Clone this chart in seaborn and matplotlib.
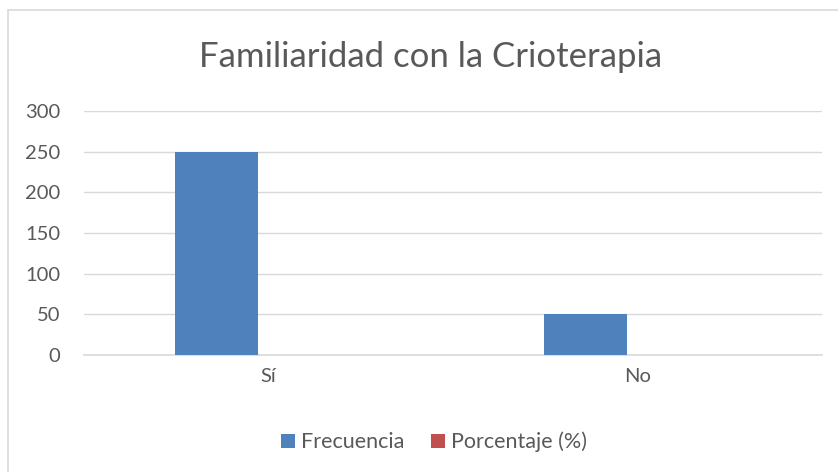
import matplotlib
matplotlib.use("Agg")
import matplotlib.pyplot as plt
import seaborn as sns
import pandas as pd
from matplotlib.lines import Line2D

categories = ["Sí", "No"]
frecuencia = [250, 50]
porcentaje = [0, 0]
series_names = ["Frecuencia", "Porcentaje (%)"]
y_ticks = [0, 50, 100, 150, 200, 250, 300]

sns.set_theme(style="white")
plt.rcParams['font.family'] = ['Lato', 'DejaVu Sans']

df = pd.DataFrame({
    "Categoría": categories * 2,
    "Valor": frecuencia + porcentaje,
    "Serie": [series_names[0]] * len(categories) + [series_names[1]] * len(categories),
})

W, H = 838, 472
fig = plt.figure(figsize=(W / 100, H / 100), dpi=100)
ax = fig.add_axes([84 / W, 1 - 355 / H, (822 - 84) / W, (355 - 111) / H])

palette = {series_names[0]: "#4f81bd", series_names[1]: "#c0504d"}
sns.barplot(data=df, x="Categoría", y="Valor", hue="Serie", palette=palette,
            width=0.564, gap=0.2, ax=ax, saturation=1, legend=True, zorder=3,
            linewidth=0)

ax.set_xlim(-0.5, 1.5)
ax.set_ylim(0, 300)
ax.set_yticks(y_ticks)
ax.set_yticklabels([str(t) for t in y_ticks], fontsize=14.5, color="#595959")
ax.tick_params(axis="x", labelsize=14.5, colors="#595959", length=0, pad=9)
ax.tick_params(axis="y", length=0, pad=17)
ax.set_xlabel("")
ax.set_ylabel("")
ax.grid(axis="y", color="#d9d9d9", linewidth=1, zorder=0)
for s in ["top", "right", "left"]:
    ax.spines[s].set_visible(False)
ax.spines["bottom"].set_color("#d9d9d9")
ax.spines["bottom"].set_linewidth(1.2)

leg = ax.legend(loc="center", bbox_to_anchor=(434 / W, 1 - 442 / H), bbox_transform=fig.transFigure,
                ncol=2, frameon=False, fontsize=15.5, handlelength=0.65, handleheight=0.65,
                handletextpad=0.3, columnspacing=1.2)
for t in leg.get_texts():
    t.set_color("#595959")

fig.text(431 / W, 1 - 67 / H, "Familiaridad con la Crioterapia",
         ha="center", va="baseline", fontsize=25, color="#595959")

fig.add_artist(Line2D([8 / W, 1], [1 - 10 / H, 1 - 10 / H], transform=fig.transFigure,
                      color="#d9d9d9", linewidth=1.2))
fig.add_artist(Line2D([8 / W, 8 / W], [0, 1 - 10 / H], transform=fig.transFigure,
                      color="#d9d9d9", linewidth=1.2))

fig.savefig("out.png", dpi=100, facecolor="white")
